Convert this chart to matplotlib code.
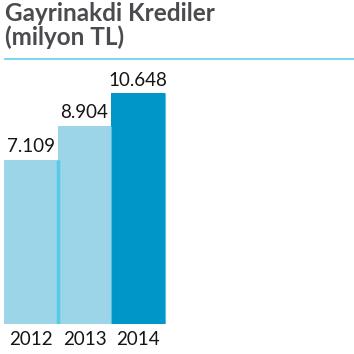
import numpy as np
import matplotlib.pyplot as plt
from matplotlib.lines import Line2D

# données
years = ["2012", "2013", "2014"]
values = [7109, 8904, 10648]
labels = ["7.109", "8.904", "10.648"]
colors = ["#9dd5e8", "#9dd5e8", "#0096c8"]

W, H = 354, 354
fig = plt.figure(figsize=(W / 100, H / 100), dpi=100)

# axe en pixels: bas à 324 px, haut à 60 px
ax = fig.add_axes([0, 30 / H, 1, 264 / H])
base = -1690
x = np.arange(3)
ax.bar(x, np.array(values) - base, bottom=base, width=1.0,
       color=colors, linewidth=0)
# séparateurs entre les barres
ax.vlines(0.5, base, values[0], color="#55cbe7", lw=2.5)
ax.vlines([1.5, 2.5], base, values[1:], color="#4cc2e6", lw=0.8)
ax.set_xlim(-0.58, 6.04)
ax.set_ylim(base, base + 264 * 53.5)

for i, (v, lab) in enumerate(zip(values, labels)):
    ax.text(i, v + 250, lab, ha="center", va="bottom", fontsize=13.5,
            family="Lato", color="#151515")

ax.set_xticks(x)
ax.set_xticklabels(years, fontsize=13.5, family="Lato", color="#151515")
ax.tick_params(axis="x", length=0, pad=5)
ax.set_yticks([])
for s in ax.spines.values():
    s.set_visible(False)

# titre
fig.text(5 / W, 1 - 2 / H, "Gayrinakdi Krediler\n(milyon TL)", ha="left", va="top",
         fontsize=17.5, family="Lato", weight="bold", color="#4a4a4f", linespacing=1.0)
fig.add_artist(Line2D([5 / W, 1], [1 - 59 / H, 1 - 59 / H], color="#6dd3ec", lw=1.3))

fig.savefig("out.png", dpi=100)
